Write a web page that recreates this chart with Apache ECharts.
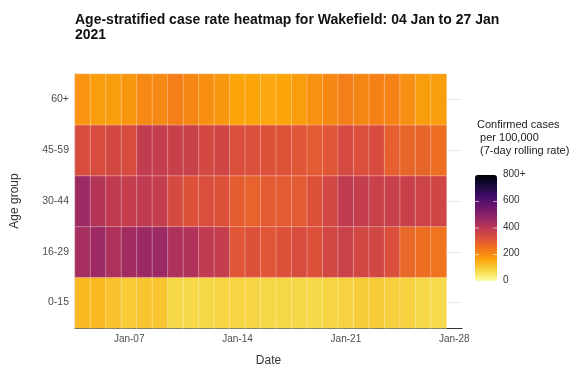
<!DOCTYPE html>
<html>
<head>
<meta charset="utf-8">
<script src="https://cdn.jsdelivr.net/npm/echarts@6/dist/echarts.min.js"></script>
<style>
  html, body { margin: 0; padding: 0; background: #fff; }
  #chart { width: 581px; height: 372px; }
</style>
</head>
<body>
<div id="chart"></div>
<script>
// dates on the x axis (Jan-28 is only an axis tick, no tiles)
const dates = ['Jan-04', 'Jan-05', 'Jan-06', 'Jan-07', 'Jan-08', 'Jan-09', 'Jan-10',
  'Jan-11', 'Jan-12', 'Jan-13', 'Jan-14', 'Jan-15', 'Jan-16', 'Jan-17',
  'Jan-18', 'Jan-19', 'Jan-20', 'Jan-21', 'Jan-22', 'Jan-23', 'Jan-24',
  'Jan-25', 'Jan-26', 'Jan-27', 'Jan-28'];
const shownDates = ['Jan-07', 'Jan-14', 'Jan-21', 'Jan-28'];
const ageGroups = ['0-15', '16-29', '30-44', '45-59', '60+'];

// 7-day rolling rate per 100,000, Jan 04 .. Jan 27
const rate0to15 = [130, 130, 115, 100, 110, 110, 80, 78, 80, 85, 85, 82,
  80, 80, 80, 78, 85, 88, 98, 98, 92, 92, 78, 75];
const rate16to29 = [445, 460, 430, 450, 465, 462, 430, 420, 390, 380, 310, 320,
  310, 320, 335, 320, 350, 365, 350, 350, 325, 275, 260, 250];
const rate30to44 = [460, 415, 390, 380, 390, 380, 340, 320, 330, 320, 295, 285,
  300, 300, 300, 320, 350, 390, 380, 370, 370, 370, 360, 355];
const rate45to59 = [335, 335, 345, 335, 385, 380, 370, 370, 345, 355, 325, 325,
  320, 315, 310, 300, 310, 340, 325, 335, 290, 280, 280, 260];
const rate60plus = [190, 175, 175, 185, 210, 210, 230, 215, 200, 185, 160, 160,
  155, 160, 175, 195, 210, 230, 215, 225, 220, 200, 175, 175];

const legendTicks = ['0', '200', '400', '600', '800+'];
const legendMax = 800;

const rows = [rate0to15, rate16to29, rate30to44, rate45to59, rate60plus];
const heatData = [];
rows.forEach((row, y) => {
  row.forEach((v, x) => heatData.push([x, y, v]));
});

// inferno, light end first
const inferno = ['#FCFFA4', '#F6D746', '#FCA50A', '#F37819', '#DD513A', '#BC3754',
  '#932667', '#6A176E', '#420A68', '#160B39', '#000004'];

const chart = echarts.init(document.getElementById('chart'));

// legend tick labels beside the colour bar
const barTop = 175, barH = 106, barLeft = 475, barW = 22;
const legendGraphics = [];
legendTicks.forEach((t, i) => {
  const y = barTop + barH - (i / (legendTicks.length - 1)) * barH;
  legendGraphics.push({
    type: 'text', left: barLeft + barW + 6, top: y - 6, z: 100,
    style: { text: t, fill: '#333', font: '10px "Liberation Sans", Arial' }
  });
  if (i > 0 && i < legendTicks.length - 1) {
    legendGraphics.push({
      type: 'line', z: 100, shape: { x1: barLeft, y1: y, x2: barLeft + 4, y2: y },
      style: { stroke: 'rgba(255,255,255,0.6)', lineWidth: 1 }
    });
    legendGraphics.push({
      type: 'line', z: 100, shape: { x1: barLeft + barW - 4, y1: y, x2: barLeft + barW, y2: y },
      style: { stroke: 'rgba(255,255,255,0.6)', lineWidth: 1 }
    });
  }
});
legendGraphics.push({
  type: 'text', left: 477, top: 118,
  style: {
    text: 'Confirmed cases\n per 100,000\n (7-day rolling rate)',
    fill: '#1a1a1a', font: '11px "Liberation Sans", Arial', lineHeight: 13
  }
});

const option = {
  animation: false,
  textStyle: { fontFamily: '"Liberation Sans", Arial' },
  title: {
    text: 'Age-stratified case rate heatmap for Wakefield: 04 Jan to 27 Jan\n2021',
    left: 70,
    top: 8,
    textStyle: { fontSize: 14, fontWeight: 'bold', color: '#111', lineHeight: 15 }
  },
  grid: { left: 75, right: 119, top: 74, bottom: 43 },
  xAxis: {
    type: 'category',
    data: dates,
    name: 'Date',
    nameLocation: 'middle',
    nameGap: 27,
    nameTextStyle: { fontSize: 12, color: '#333' },
    axisLine: { lineStyle: { color: '#333', width: 1.2 } },
    axisTick: {
      alignWithLabel: true, length: 4, lineStyle: { color: '#333' },
      interval: (i, v) => shownDates.includes(v)
    },
    axisLabel: {
      fontSize: 10, color: '#4d4d4d', margin: 6,
      interval: (i, v) => shownDates.includes(v)
    },
    splitLine: { show: false }
  },
  yAxis: {
    type: 'category',
    data: ageGroups,
    name: 'Age group',
    nameLocation: 'middle',
    nameGap: 54,
    nameTextStyle: { fontSize: 12, color: '#333' },
    axisLine: { lineStyle: { color: '#333', width: 1.2 } },
    axisTick: { alignWithLabel: true, length: 3, lineStyle: { color: '#333' } },
    axisLabel: { fontSize: 10.5, color: '#4d4d4d', margin: 6 },
    splitLine: { show: true, alignWithLabel: true, lineStyle: { color: '#ebebeb' } }
  },
  visualMap: {
    type: 'continuous',
    min: 0,
    max: legendMax,
    calculable: false,
    showLabel: false,
    padding: 0,
    left: barLeft,
    top: barTop,
    itemWidth: barW,
    itemHeight: barH,
    inRange: { color: inferno },
    seriesIndex: 0
  },
  graphic: legendGraphics,
  series: [{
    type: 'heatmap',
    data: heatData,
    itemStyle: { borderColor: 'rgba(255,255,255,0.3)', borderWidth: 1 },
    emphasis: { disabled: true }
  }]
};

chart.setOption(option);
</script>
</body>
</html>
